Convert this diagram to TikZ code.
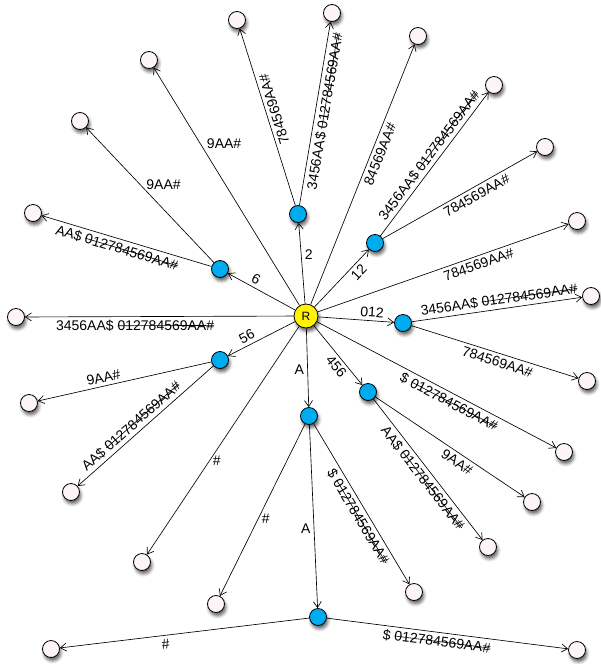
\documentclass[tikz,border=0pt]{standalone}
\usepackage{fontspec}
\setmainfont{Liberation Sans}
\usetikzlibrary{arrows.meta,shadows.blur}
\definecolor{leafpink}{RGB}{253,244,247}
\definecolor{nodeblue}{RGB}{0,172,240}
\definecolor{rootyellow}{RGB}{255,242,0}
\newsavebox{\gonebox}
\newcommand{\gone}{\sbox{\gonebox}{012784569AA\#}\rlap{\rule[0.33em]{\wd\gonebox}{0.6pt}}012784569AA\#}

\begin{document}
\begin{tikzpicture}[x=1pt,y=-1pt,font=\fontsize{14}{16}\selectfont,
  dot/.style={circle,draw,line width=0.8pt,inner sep=0pt,
    blur shadow={shadow xshift=1.5pt,shadow yshift=-3.5pt,shadow blur radius=3pt,shadow opacity=60}},
  leaf/.style={dot,fill=leafpink,minimum size=17pt},
  branch/.style={dot,fill=nodeblue,minimum size=17pt},
  rootnode/.style={dot,fill=rootyellow,minimum size=24pt,font=\fontsize{12}{14}\selectfont},
  edge/.style={-{Straight Barb[length=6pt,width=8pt]},line width=0.65pt}]
\useasboundingbox (0,0) rectangle (600,664);
% root and inner nodes
\node[rootnode] (root) at (306,316) {R};
\foreach \nm/\xx/\yy in {n2/298/214, n12/375/243, n6/220/269, n012/403/323,
                         n56/220/360, n456/368/392, nA/309/416, nAA/318/617}{
  \node[branch] (\nm) at (\xx,\yy) {};
}
% leaves
\foreach \nm/\xx/\yy in {l1/237/20, l2/332/13, l3/418/36, l4/149/60, l5/494/85,
    l6/80/121, l7/545/147, l8/33/213, l9/577/221, l10/16/317, l11/591/296,
    l12/587/381, l13/29/403, l14/564/452, l15/532/502, l16/71/492, l17/488/547,
    l18/142/562, l19/414/592, l20/216/604, l21/51/649, l22/577/650}{
  \node[leaf] (\nm) at (\xx,\yy) {};
}
% edges out of the root
\draw[edge] (root) -- (n2) node[pos=0.61,right]{2};
\draw[edge] (root) -- (n12) node[pos=0.7,sloped,below]{12};
\draw[edge] (root) -- (n6) node[pos=0.64,sloped,above]{6};
\draw[edge] (root) -- (n012) node[pos=0.7,sloped,above]{012};
\draw[edge] (root) -- (n56) node[pos=0.66,sloped,above]{56};
\draw[edge] (root) -- (n456) node[pos=0.6,sloped,below]{456};
\draw[edge] (root) -- (nA) node[pos=0.52,left]{A};
\draw[edge] (root) -- (l4) node[pos=0.68,right=3pt]{9AA\#};
\draw[edge] (root) -- (l3) node[pos=0.59,sloped,below]{84569AA\#};
\draw[edge] (root) -- (l9) node[pos=0.63,sloped,below]{784569AA\#};
\draw[edge] (root) -- (l10) node[pos=0.59,sloped,below]{3456AA\$ \gone};
\draw[edge] (root) -- (l14) node[pos=0.57,sloped,below]{\$ \gone};
\draw[edge] (root) -- (l18) node[pos=0.59,right]{\#};
% edges below the inner nodes
\draw[edge] (n2) -- (l1) node[pos=0.53,sloped,allow upside down,below]{784569AA\#};
\draw[edge] (n2) -- (l2) node[pos=0.52,sloped,below]{3456AA\$ \gone};
\draw[edge] (n12) -- (l5) node[pos=0.52,sloped,above]{3456AA\$ \gone};
\draw[edge] (n12) -- (l7) node[pos=0.58,sloped,below]{784569AA\#};
\draw[edge] (n6) -- (l6) node[pos=0.58,right=3pt]{9AA\#};
\draw[edge] (n6) -- (l8) node[pos=0.54,sloped,below]{AA\$ \gone};
\draw[edge] (n012) -- (l11) node[pos=0.52,sloped,above]{3456AA\$ \gone};
\draw[edge] (n012) -- (l12) node[pos=0.53,sloped,below]{784569AA\#};
\draw[edge] (n56) -- (l13) node[pos=0.61,sloped,above]{9AA\#};
\draw[edge] (n56) -- (l16) node[pos=0.56,sloped,above]{AA\$ \gone};
\draw[edge] (n456) -- (l15) node[pos=0.58,sloped,below]{9AA\#};
\draw[edge] (n456) -- (l17) node[pos=0.52,sloped,below]{AA\$ \gone};
\draw[edge] (nA) -- (l20) node[pos=0.55,right]{\#};
\draw[edge] (nA) -- (l19) node[pos=0.55,sloped,below]{\$ \gone};
\draw[edge] (nA) -- (nAA) node[pos=0.565,left]{A};
\draw[edge] (nAA) -- (l21) node[pos=0.58,sloped,below]{\#};
\draw[edge] (nAA) -- (l22) node[pos=0.46,sloped,below]{\$ \gone};
\end{tikzpicture}
\end{document}
